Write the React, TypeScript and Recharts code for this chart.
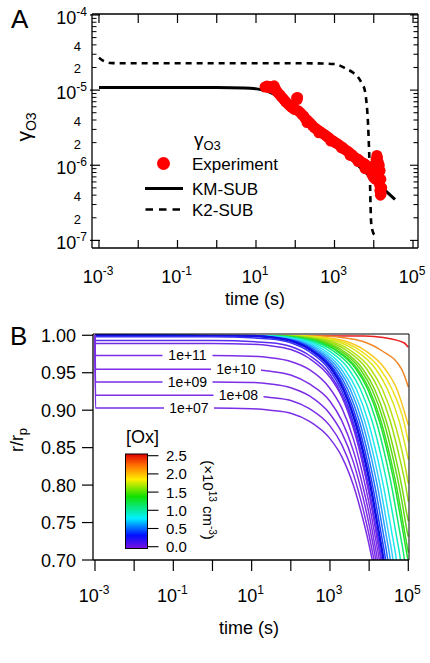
import React from 'react';
import { ComposedChart, Line, Scatter, XAxis, YAxis } from 'recharts';

const FONT = "'Liberation Sans', Arial, Helvetica, sans-serif";

// ---------- panel A data ----------
const kmSubTime = [0.001, 0.01, 0.1, 1, 5, 10, 20, 34, 60, 89, 150, 300, 1000, 3000, 10000, 34700];
const kmSubGamma = [1.08e-5, 1.08e-5, 1.08e-5, 1.08e-5, 1.07e-5, 1.04e-5, 9.6e-6, 8.4e-6, 7.0e-6, 6.2e-6, 4.82e-6, 3.45e-6, 1.94e-6, 1.14e-6, 6.38e-7, 3.5e-7];

const k2SubTime = [0.001, 0.0013, 0.002, 0.003, 0.01, 1, 100, 500, 1000, 2000, 3000, 4000, 5000, 5900, 6500, 7100, 7600, 8000, 8300, 8600, 9500, 10500];
const k2SubGamma = [2.7e-5, 2.45e-5, 2.3e-5, 2.28e-5, 2.28e-5, 2.28e-5, 2.28e-5, 2.26e-5, 2.22e-5, 1.92e-5, 1.7e-5, 1.48e-5, 1.22e-5, 1.0e-5, 7.0e-6, 3.8e-6, 1.6e-6, 6.5e-7, 2.8e-7, 1.7e-7, 1.3e-7, 1.18e-7];

const expTime = [
  17, 19, 21, 23, 25, 27, 29, 31, 33, 35, 38, 41, 44, 48, 52, 56, 60, 66, 72, 78, 85, 92, 100, 108, 115, 112,
  120, 135, 150, 165, 180, 200, 220, 245, 270, 300, 330, 370, 410, 450, 500, 560, 620, 690, 770, 850, 950,
  1050, 1150, 1280, 1400, 1550, 1700, 1900, 2100, 2300, 2550, 2800, 3100, 3400, 3700, 4000, 4400, 4800, 5200,
  5700, 6200, 6800, 7400, 8000, 8600, 9200, 9800, 10500, 11000, 11500, 12000, 12500, 13000, 12300, 13000,
  13500, 14000, 14300, 14800, 15500, 16000, 15200, 14500, 13800, 11200, 10000, 9000, 6000, 4000, 2500, 1500,
  800, 400, 200,
];
const expGamma = [
  1.1e-5, 1.13e-5, 1.08e-5, 1.12e-5, 1.06e-5, 1.1e-5, 1.14e-5, 1.05e-5, 9.8e-6, 9.4e-6, 9.0e-6, 8.6e-6, 8.2e-6,
  7.8e-6, 7.4e-6, 7.1e-6, 6.8e-6, 6.5e-6, 6.2e-6, 6.0e-6, 5.8e-6, 5.6e-6, 5.5e-6, 7.9e-6, 8.0e-6, 7.5e-6,
  5.3e-6, 5.0e-6, 4.7e-6, 4.5e-6, 4.2e-6, 4.0e-6, 3.8e-6, 3.6e-6, 3.4e-6, 3.2e-6, 3.1e-6, 2.95e-6, 2.85e-6,
  2.75e-6, 2.65e-6, 2.55e-6, 2.45e-6, 2.35e-6, 2.25e-6, 2.15e-6, 2.08e-6, 2.0e-6, 1.95e-6, 1.88e-6, 1.8e-6,
  1.75e-6, 1.68e-6, 1.6e-6, 1.55e-6, 1.5e-6, 1.42e-6, 1.38e-6, 1.3e-6, 1.25e-6, 1.22e-6, 1.2e-6, 1.15e-6,
  1.1e-6, 1.08e-6, 1.05e-6, 1.02e-6, 9.8e-7, 9.4e-7, 9.0e-7, 8.6e-7, 8.2e-7, 7.8e-7, 7.4e-7, 1.05e-6, 1.2e-6,
  1.35e-6, 1.25e-6, 1.1e-6, 9e-7, 8e-7, 6.5e-7, 5.5e-7, 4.6e-7, 4.0e-7, 4.2e-7, 5.0e-7, 6.5e-7, 8.5e-7,
  1.0e-6, 6.5e-7, 6.8e-7, 7.5e-7, 9e-7, 1.12e-6, 1.35e-6, 1.7e-6, 2.1e-6, 2.7e-6, 3.7e-6,
];

const decadeTicks = [0.001, 0.01, 0.1, 1, 10, 100, 1000, 10000, 100000];
const gammaTicks = [
  1e-7, 2e-7, 3e-7, 4e-7, 5e-7, 6e-7, 7e-7, 8e-7, 9e-7,
  1e-6, 2e-6, 3e-6, 4e-6, 5e-6, 6e-6, 7e-6, 8e-6, 9e-6,
  1e-5, 2e-5, 3e-5, 4e-5, 5e-5, 6e-5, 7e-5, 8e-5, 9e-5, 1e-4,
];

// ---------- panel B data ([time s, r/rp]) ----------
const ox1e7 = [[0.001, 1], [0.00103, 0.903], [1, 0.903], [10, 0.902], [30, 0.9], [100, 0.896], [300, 0.885], [1000, 0.862], [2000, 0.838], [4000, 0.799], [7000, 0.754], [10000, 0.72], [12000, 0.7]];
const ox1e8 = [[0.001, 1], [0.00103, 0.92], [1, 0.92], [10, 0.919], [30, 0.917], [100, 0.913], [300, 0.902], [1000, 0.879], [2000, 0.854], [4000, 0.814], [7000, 0.768], [10000, 0.733], [13000, 0.703], [14000, 0.695]];
const ox1e9 = [[0.001, 1], [0.00103, 0.9375], [1, 0.9375], [10, 0.937], [30, 0.935], [100, 0.93], [300, 0.919], [1000, 0.895], [2000, 0.87], [4000, 0.83], [7000, 0.783], [10000, 0.747], [13000, 0.716], [16000, 0.691]];
const ox1e10 = [[0.001, 1], [0.00103, 0.9545], [1, 0.9545], [10, 0.954], [30, 0.952], [100, 0.947], [300, 0.935], [1000, 0.912], [2000, 0.886], [4000, 0.845], [7000, 0.797], [10000, 0.761], [13000, 0.729], [16000, 0.703], [17000, 0.694]];
const ox1e11 = [[0.001, 1], [0.00103, 0.973], [1, 0.973], [10, 0.972], [30, 0.97], [100, 0.965], [300, 0.954], [1000, 0.929], [2000, 0.903], [4000, 0.861], [7000, 0.812], [10000, 0.775], [13000, 0.743], [16000, 0.717], [20000, 0.689]];
const ox1e12 = [[0.001, 1], [0.00103, 0.989], [1, 0.989], [10, 0.988], [30, 0.986], [100, 0.981], [300, 0.969], [1000, 0.944], [2000, 0.918], [4000, 0.875], [7000, 0.826], [10000, 0.788], [13000, 0.756], [16000, 0.729], [20000, 0.7], [21000, 0.693]];
const ox2e12 = [[0.001, 1], [0.00103, 0.993], [1, 0.993], [30, 0.99], [100, 0.985], [300, 0.973], [1000, 0.948], [2000, 0.921], [4000, 0.879], [7000, 0.829], [10000, 0.791], [13000, 0.759], [16000, 0.732], [20000, 0.703], [22000, 0.688]];
const ox3e12 = [[0.001, 1], [0.00103, 0.998], [1, 0.998], [30, 0.995], [100, 0.99], [300, 0.978], [1000, 0.953], [2000, 0.926], [4000, 0.883], [7000, 0.833], [10000, 0.795], [13000, 0.762], [16000, 0.736], [20000, 0.707], [22000, 0.692]];

const oxC1 = [[0.001, 1], [11, 0.999], [33, 0.997], [110, 0.992], [330, 0.98], [1100, 0.955], [2200, 0.928], [4400, 0.885], [7700, 0.835], [11000, 0.797], [14300, 0.764], [17600, 0.737], [22000, 0.708], [24200, 0.693]];
const oxC2 = [[0.001, 1], [12.5, 0.999], [37.5, 0.997], [125, 0.992], [375, 0.98], [1250, 0.955], [2500, 0.928], [5000, 0.885], [8750, 0.835], [12500, 0.797], [16250, 0.764], [20000, 0.737], [25000, 0.708], [27500, 0.693]];
const oxC3 = [[0.001, 1], [14, 0.999], [43, 0.997], [142, 0.992], [426, 0.98], [1420, 0.955], [2840, 0.928], [5680, 0.885], [9940, 0.835], [14200, 0.797], [18500, 0.764], [22700, 0.737], [28400, 0.708], [31200, 0.693]];
const oxC4 = [[0.001, 1], [16.5, 0.999], [50, 0.997], [165, 0.992], [495, 0.98], [1650, 0.955], [3300, 0.928], [6600, 0.885], [11550, 0.835], [16500, 0.797], [21450, 0.764], [26400, 0.737], [33000, 0.708], [36300, 0.693]];
const oxC5 = [[0.001, 1], [19, 0.999], [58, 0.997], [194, 0.992], [582, 0.98], [1940, 0.955], [3880, 0.928], [7760, 0.885], [13600, 0.835], [19400, 0.797], [25200, 0.764], [31000, 0.737], [38800, 0.708], [42700, 0.693]];
const oxC6 = [[0.001, 1], [24, 0.999], [71, 0.997], [236, 0.992], [708, 0.98], [2360, 0.955], [4720, 0.928], [9440, 0.885], [16500, 0.835], [23600, 0.797], [30700, 0.764], [37800, 0.737], [47200, 0.708], [51900, 0.693]];
const oxC7 = [[0.001, 1], [30, 0.999], [90, 0.997], [300, 0.992], [900, 0.98], [3000, 0.955], [6000, 0.928], [12000, 0.885], [21000, 0.835], [30000, 0.797], [39000, 0.764], [48000, 0.737], [60000, 0.708], [66000, 0.693]];
const oxC8 = [[0.001, 1], [38, 0.999], [114, 0.997], [380, 0.992], [1140, 0.98], [3800, 0.955], [7600, 0.928], [15200, 0.885], [26600, 0.835], [38000, 0.797], [49400, 0.764], [60800, 0.737], [76000, 0.708], [83600, 0.693]];
const oxC9 = [[0.001, 1], [46, 0.999], [138, 0.997], [460, 0.992], [1380, 0.98], [4600, 0.955], [9200, 0.928], [18400, 0.885], [32200, 0.835], [46000, 0.797], [59800, 0.764], [73600, 0.737], [92000, 0.708], [100000, 0.698]];
const oxC10 = [[0.001, 1], [50, 0.999], [150, 0.997], [505, 0.992], [1515, 0.98], [5050, 0.955], [10100, 0.928], [20200, 0.885], [35350, 0.835], [50500, 0.797], [65650, 0.764], [80800, 0.737], [100000, 0.71]];
const oxC11 = [[0.001, 1], [59, 0.999], [177, 0.997], [590, 0.992], [1770, 0.98], [5900, 0.955], [11800, 0.928], [23600, 0.885], [41300, 0.835], [59000, 0.797], [76700, 0.764], [94400, 0.737], [100000, 0.731]];
const oxC12 = [[0.001, 1], [69, 0.999], [207, 0.997], [690, 0.992], [2070, 0.98], [6900, 0.955], [13800, 0.928], [27600, 0.885], [48300, 0.835], [69000, 0.797], [89700, 0.764], [100000, 0.752]];
const oxC13 = [[0.001, 1], [87, 0.999], [261, 0.997], [870, 0.992], [2610, 0.98], [8700, 0.955], [17400, 0.928], [34800, 0.885], [60900, 0.835], [87000, 0.797], [100000, 0.778]];
const oxC14 = [[0.001, 1], [109, 0.999], [327, 0.997], [1090, 0.992], [3270, 0.98], [10900, 0.955], [21800, 0.928], [43600, 0.885], [76300, 0.835], [100000, 0.802]];
const oxC15 = [[0.001, 1], [147, 0.999], [441, 0.997], [1470, 0.992], [4410, 0.98], [14700, 0.955], [29400, 0.928], [58800, 0.885], [100000, 0.834]];
const oxC16 = [[0.001, 1], [192, 0.999], [576, 0.997], [1920, 0.992], [5760, 0.98], [19200, 0.955], [38400, 0.928], [76800, 0.885], [100000, 0.858]];
const oxC17 = [[0.001, 1], [256, 0.999], [768, 0.997], [2560, 0.992], [7680, 0.98], [25600, 0.955], [51200, 0.928], [100000, 0.88]];
const oxC18 = [[0.001, 1], [670, 0.999], [2010, 0.997], [6700, 0.992], [20100, 0.98], [67000, 0.955], [100000, 0.931]];
const oxC19 = [[0.001, 1], [7700, 0.999], [23100, 0.997], [77000, 0.99], [100000, 0.984]];

// drawn from high [Ox] (red) to low (purple) so the low ones sit on top
const oxCurves = [
  { pts: oxC19, color: '#e82020', w: 1.5 },
  { pts: oxC18, color: '#f08828', w: 1.5 },
  { pts: oxC17, color: '#f8c820', w: 1.5 },
  { pts: oxC16, color: '#f0e020', w: 1.5 },
  { pts: oxC15, color: '#d8e418', w: 1.5 },
  { pts: oxC14, color: '#b8e014', w: 1.5 },
  { pts: oxC13, color: '#9ade10', w: 1.5 },
  { pts: oxC12, color: '#7ad810', w: 1.5 },
  { pts: oxC11, color: '#5ad818', w: 1.5 },
  { pts: oxC10, color: '#40dc20', w: 1.5 },
  { pts: oxC9, color: '#20e030', w: 1.5 },
  { pts: oxC8, color: '#10e870', w: 1.5 },
  { pts: oxC7, color: '#10eec0', w: 1.5 },
  { pts: oxC6, color: '#20e8f0', w: 1.5 },
  { pts: oxC5, color: '#2fd0ff', w: 1.5 },
  { pts: oxC4, color: '#2aa0ff', w: 1.5 },
  { pts: oxC3, color: '#1f6fff', w: 1.5 },
  { pts: oxC2, color: '#1e3cff', w: 1.5 },
  { pts: oxC1, color: '#1010e0', w: 2.5 },
  { pts: ox3e12, color: '#3a30f8', w: 1.5 },
  { pts: ox2e12, color: '#5a2cf0', w: 1.5 },
  { pts: ox1e12, color: '#702ce8', w: 1.5 },
  { pts: ox1e11, color: '#7b2ee6', w: 1.5 },
  { pts: ox1e10, color: '#7b2ee6', w: 1.5 },
  { pts: ox1e9, color: '#7b2ee6', w: 1.5 },
  { pts: ox1e8, color: '#7b2ee6', w: 1.5 },
  { pts: ox1e7, color: '#7b2ee6', w: 1.5 },
];

const radiusTicks = [0.7, 0.75, 0.8, 0.85, 0.9, 0.95, 1.0];
const colorbarTicks = ['2.5', '2.0', '1.5', '1.0', '0.5', '0.0'];
const curveLabels = [
  { text: '1e+11', x: 187.5, y: 355 },
  { text: '1e+10', x: 236, y: 369 },
  { text: '1e+09', x: 187.5, y: 381.5 },
  { text: '1e+08', x: 238.5, y: 395 },
  { text: '1e+07', x: 189, y: 407.5 },
];

const toRows = (times: number[], vals: number[]) => times.map((t, i) => ({ t, g: vals[i] }));
const kmSubData = toRows(kmSubTime, kmSubGamma);
const k2SubData = toRows(k2SubTime, k2SubGamma);
const expData = toRows(expTime, expGamma);

const exponent = (v: number) => Math.round(Math.log10(v));
const isDecade = (v: number) => Math.abs(Math.log10(v) - exponent(v)) < 1e-6;
const mantissa = (v: number) => Math.round(v / Math.pow(10, Math.floor(Math.log10(v) + 1e-9)));

const Pow10 = ({ x, y, e, anchor }: { x: number; y: number; e: number; anchor: string }) => (
  <text x={x} y={y} textAnchor={anchor} fontSize={18} fontFamily={FONT} fill="#000">
    10<tspan dy={-8} fontSize={12}>{e}</tspan>
  </text>
);

// ---- ticks, panel A (drawn inward, like the Igor frame) ----
const ABottomTick = ({ x, y, payload }: any) => {
  const e = exponent(payload.value);
  return (
    <g>
      <line x1={x} x2={x} y1={y} y2={y - 8} stroke="#000" strokeWidth={1.2} />
      {Math.abs(e) % 2 === 1 && <Pow10 x={x - 1} y={y + 35} e={e} anchor="middle" />}
    </g>
  );
};
const ATopTick = ({ x, y }: any) => (
  <line x1={x} x2={x} y1={y} y2={y + 9} stroke="#000" strokeWidth={1.2} />
);
const ALeftTick = ({ x, y, payload }: any) => {
  const v = payload.value;
  if (isDecade(v)) {
    return (
      <g>
        <line x1={x - 2} x2={x + 8} y1={y} y2={y} stroke="#000" strokeWidth={1.2} />
        <Pow10 x={x - 5} y={y + 9} e={exponent(v)} anchor="end" />
      </g>
    );
  }
  const m = mantissa(v);
  return (
    <g>
      <line x1={x} x2={x + 4.5} y1={y} y2={y} stroke="#000" strokeWidth={1} />
      {(m === 2 || m === 4) && (
        <text x={x - 11} y={y + 6} textAnchor="end" fontSize={13} fontFamily={FONT} fill="#000">{m}</text>
      )}
    </g>
  );
};
const ARightTick = ({ x, y, payload }: any) => {
  const len = isDecade(payload.value) ? 8 : 4.5;
  return <line x1={x - len} x2={x} y1={y} y2={y} stroke="#000" strokeWidth={1.1} />;
};

// ---- ticks, panel B (drawn outward) ----
const BBottomTick = ({ x, y, payload }: any) => {
  const e = exponent(payload.value);
  return (
    <g>
      <line x1={x} x2={x} y1={y} y2={y + 11} stroke="#000" strokeWidth={1.2} />
      {Math.abs(e) % 2 === 1 && <Pow10 x={x - 1} y={y + 42} e={e} anchor="middle" />}
    </g>
  );
};
const BLeftTick = ({ x, y, payload }: any) => (
  <g>
    <line x1={x - 11} x2={x} y1={y} y2={y} stroke="#000" strokeWidth={1.2} />
    <text x={x - 17} y={y + 6.5} textAnchor="end" fontSize={18} fontFamily={FONT} fill="#000">
      {payload.value.toFixed(2)}
    </text>
  </g>
);

function PanelA() {
  return (
    <ComposedChart width={430} height={320} margin={{ top: 13, right: 11, bottom: 71, left: 91 }}>
      <XAxis xAxisId="b" dataKey="t" type="number" scale="log" domain={[6.64e-4, 1.34e5]} allowDataOverflow
        ticks={decadeTicks} interval={0} height={1} tickSize={0} tickMargin={0} tickLine={false}
        axisLine={{ stroke: '#000', strokeWidth: 1.3 }} tick={(p: any) => <ABottomTick {...p} />} />
      <XAxis xAxisId="top" orientation="top" dataKey="t" type="number" scale="log" domain={[6.64e-4, 1.34e5]} allowDataOverflow
        ticks={decadeTicks} interval={0} height={1} tickSize={0} tickMargin={0} tickLine={false}
        axisLine={{ stroke: '#000', strokeWidth: 1.3 }} tick={(p: any) => <ATopTick {...p} />} />
      <YAxis yAxisId="l" dataKey="g" type="number" scale="log" domain={[7.92e-8, 1.03e-4]} allowDataOverflow
        ticks={gammaTicks} interval={0} width={1} tickSize={0} tickMargin={0} tickLine={false}
        axisLine={{ stroke: '#000', strokeWidth: 1.3 }} tick={(p: any) => <ALeftTick {...p} />} />
      <YAxis yAxisId="r" orientation="right" dataKey="g" type="number" scale="log" domain={[7.92e-8, 1.03e-4]} allowDataOverflow
        ticks={gammaTicks} interval={0} width={1} tickSize={0} tickMargin={0} tickLine={false}
        axisLine={{ stroke: '#000', strokeWidth: 1.3 }} tick={(p: any) => <ARightTick {...p} />} />
      <Scatter xAxisId="b" yAxisId="l" data={expData} dataKey="g" isAnimationActive={false}
        shape={(p: any) => <circle cx={p.cx} cy={p.cy} r={5.5} fill="#ff0000" />} />
      <Line xAxisId="b" yAxisId="l" data={kmSubData} dataKey="g" type="monotone" stroke="#000" strokeWidth={3}
        dot={false} isAnimationActive={false} />
      <Line xAxisId="b" yAxisId="l" data={k2SubData} dataKey="g" type="monotone" stroke="#000" strokeWidth={2.6}
        strokeDasharray="6 5" dot={false} isAnimationActive={false} />
    </ComposedChart>
  );
}

function PanelB() {
  return (
    <ComposedChart width={430} height={343} margin={{ top: 13, right: 20, bottom: 102, left: 92 }}>
      <XAxis xAxisId="b" dataKey="t" type="number" scale="log" domain={[8.9e-4, 1.042e5]} allowDataOverflow
        ticks={decadeTicks} interval={0} height={1} tickSize={0} tickMargin={0} tickLine={false}
        axisLine={{ stroke: '#000', strokeWidth: 1.3 }} tick={(p: any) => <BBottomTick {...p} />} />
      <XAxis xAxisId="top" orientation="top" dataKey="t" type="number" scale="log" domain={[8.9e-4, 1.042e5]} allowDataOverflow
        height={1} tick={false} tickLine={false} axisLine={{ stroke: '#000', strokeWidth: 1 }} />
      <YAxis yAxisId="l" dataKey="r" type="number" domain={[0.7, 1.0017]} allowDataOverflow
        ticks={radiusTicks} interval={0} width={1} tickSize={0} tickMargin={0} tickLine={false}
        axisLine={{ stroke: '#000', strokeWidth: 1.3 }} tick={(p: any) => <BLeftTick {...p} />} />
      <YAxis yAxisId="r" orientation="right" dataKey="r" type="number" domain={[0.7, 1.0017]} allowDataOverflow
        width={1} tick={false} tickLine={false} axisLine={{ stroke: '#000', strokeWidth: 1 }} />
      {oxCurves.map((c, i) => (
        <Line key={i} xAxisId="b" yAxisId="l" data={c.pts.map(([t, r]) => ({ t, r }))} dataKey="r" type="monotone"
          stroke={c.color} strokeWidth={c.w} dot={false} isAnimationActive={false} />
      ))}
    </ComposedChart>
  );
}

export default function App() {
  return (
    <div style={{ position: 'absolute', left: 0, top: 0, width: 430, height: 663, background: '#fff', fontFamily: FONT }}>
      <div style={{ position: 'absolute', left: 0, top: 0 }}><PanelA /></div>
      <div style={{ position: 'absolute', left: 0, top: 320 }}><PanelB /></div>
      <svg width={430} height={663} style={{ position: 'absolute', left: 0, top: 0, pointerEvents: 'none' }} fontFamily={FONT}>
        <defs>
          <linearGradient id="rainbow" x1="0" y1="0" x2="0" y2="1">
            <stop offset="0%" stopColor="#e00000" />
            <stop offset="12%" stopColor="#ff7000" />
            <stop offset="27%" stopColor="#ffee00" />
            <stop offset="45%" stopColor="#10e000" />
            <stop offset="68%" stopColor="#00f0ff" />
            <stop offset="86%" stopColor="#0010ff" />
            <stop offset="100%" stopColor="#7a10e0" />
          </linearGradient>
        </defs>
        {/* panel A text */}
        <text x={11} y={28} fontSize={26}>A</text>
        <text transform="translate(31,127) rotate(-90)" textAnchor="middle" fontSize={21}>
          γ<tspan dy={5} fontSize={14}>O3</tspan>
        </text>
        <text x={255} y={305} textAnchor="middle" fontSize={18}>time (s)</text>
        <text x={194} y={146} fontSize={19}>γ<tspan dy={4} fontSize={13}>O3</tspan></text>
        <circle cx={163.5} cy={163.5} r={6.5} fill="#ff0000" />
        <text x={192} y={169.5} fontSize={17}>Experiment</text>
        <line x1={145} x2={183} y1={188.5} y2={188.5} stroke="#000" strokeWidth={3} />
        <text x={192} y={194.5} fontSize={17}>KM-SUB</text>
        <line x1={145.5} x2={183} y1={209.5} y2={209.5} stroke="#000" strokeWidth={2.6} strokeDasharray="7.5 6" />
        <text x={192} y={215.5} fontSize={17}>K2-SUB</text>

        {/* panel B text */}
        <text x={10} y={345} fontSize={26}>B</text>
        <text transform="translate(23,440) rotate(-90)" textAnchor="middle" fontSize={18}>
          r/r<tspan dy={4} fontSize={13}>p</tspan>
        </text>
        <text x={249} y={634} textAnchor="middle" fontSize={18}>time (s)</text>
        {curveLabels.map((l) => (
          <g key={l.text}>
            <rect x={l.x - 25} y={l.y - 6} width={50} height={12} fill="#fff" />
            <text x={l.x} y={l.y + 5} textAnchor="middle" fontSize={14}>{l.text}</text>
          </g>
        ))}
        <text x={126} y={443} fontSize={18}>[Ox]</text>
        <rect x={125.5} y={454} width={22} height={94.5} fill="url(#rainbow)" stroke="#000" strokeWidth={1} />
        {colorbarTicks.map((lab, i) => {
          const ty = 455.7 + i * 18.2;
          return (
            <g key={lab}>
              <line x1={147.5} x2={158.5} y1={ty} y2={ty} stroke="#000" strokeWidth={1.1} />
              <text x={166} y={ty + 5.5} fontSize={15}>{lab}</text>
            </g>
          );
        })}
        <text transform="translate(203,500) rotate(90)" textAnchor="middle" fontSize={15}>
          (×10<tspan dy={-6} fontSize={10}>13</tspan><tspan dy={6}> cm</tspan><tspan dy={-6} fontSize={10}>-3</tspan><tspan dy={6}>)</tspan>
        </text>
      </svg>
    </div>
  );
}
